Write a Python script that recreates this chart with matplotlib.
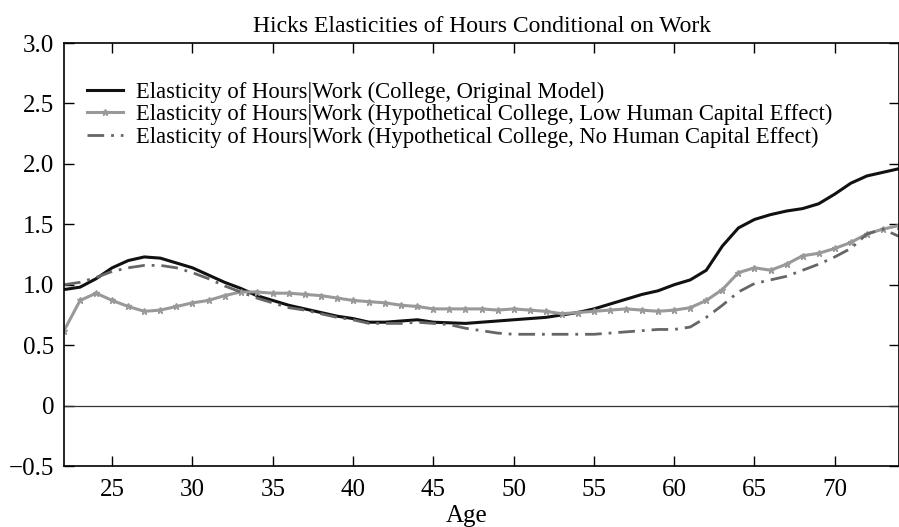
from matplotlib import pyplot as plt
import numpy as np

# ages 22..74, one value per year
age = np.arange(22, 75)

original = [0.96, 0.98, 1.05, 1.14, 1.20, 1.23, 1.22, 1.18, 1.14, 1.08,
            1.02, 0.97, 0.91, 0.87, 0.83, 0.80, 0.77, 0.74, 0.72, 0.69,
            0.69, 0.70, 0.71, 0.69, 0.685, 0.68, 0.69, 0.70, 0.71, 0.72,
            0.73, 0.75, 0.77, 0.80, 0.84, 0.88, 0.92, 0.95, 1.00, 1.04,
            1.12, 1.32, 1.47, 1.54, 1.58, 1.61, 1.63, 1.67, 1.75, 1.84,
            1.90, 1.93, 1.96]

low_hc = [0.62, 0.87, 0.93, 0.87, 0.82, 0.78, 0.79, 0.82, 0.85, 0.87,
          0.91, 0.94, 0.94, 0.93, 0.93, 0.92, 0.91, 0.89, 0.87, 0.86,
          0.85, 0.83, 0.82, 0.80, 0.80, 0.80, 0.80, 0.79, 0.80, 0.79,
          0.78, 0.76, 0.77, 0.78, 0.79, 0.80, 0.79, 0.78, 0.79, 0.81,
          0.87, 0.96, 1.10, 1.14, 1.12, 1.17, 1.24, 1.26, 1.30, 1.35,
          1.42, 1.46, 1.49]

no_hc = [1.00, 1.02, 1.06, 1.11, 1.14, 1.16, 1.16, 1.14, 1.10, 1.05,
         0.99, 0.94, 0.89, 0.85, 0.81, 0.79, 0.76, 0.73, 0.71, 0.68,
         0.68, 0.68, 0.69, 0.68, 0.67, 0.64, 0.62, 0.60, 0.59, 0.59,
         0.59, 0.59, 0.59, 0.59, 0.60, 0.61, 0.62, 0.63, 0.63, 0.65,
         0.73, 0.83, 0.94, 1.01, 1.04, 1.07, 1.12, 1.17, 1.23, 1.30,
         1.42, 1.46, 1.40]

labels = ['Elasticity of Hours|Work (College, Original Model)',
          'Elasticity of Hours|Work (Hypothetical College, Low Human Capital Effect)',
          'Elasticity of Hours|Work (Hypothetical College, No Human Capital Effect)']

yticks = [-0.5, 0, 0.5, 1.0, 1.5, 2.0, 2.5, 3.0]
ytick_labels = ['\u22120.5', '0', '0.5', '1.0', '1.5', '2.0', '2.5', '3.0']
xticks = [25, 30, 35, 40, 45, 50, 55, 60, 65, 70]

plt.rcParams['font.family'] = ['Liberation Serif', 'DejaVu Serif']

fig = plt.figure(figsize=(8.99, 5.27), dpi=100)
ax = fig.add_axes([0.0712, 0.1157, 0.9288, 0.8027])

ax.axhline(0, color='#333333', lw=0.9)
ax.plot(age, original, color='#111111', lw=2.2, label=labels[0])
ax.plot(age, low_hc, color='#999999', lw=2.2, marker='*', ms=4.5,
        mec='#999999', label=labels[1])
ax.plot(age, no_hc, color='#666666', lw=2.0, ls=(0, (6, 2.5, 1, 2.5)),
        label=labels[2])

ax.set_xlim(22, 74)
ax.set_ylim(-0.5, 3.0)
ax.set_xticks(xticks)
ax.set_yticks(yticks)
ax.set_yticklabels(ytick_labels)
ax.tick_params(direction='in', length=7, width=1, labelsize=18,
               top=True, right=True)
ax.tick_params(axis='x', pad=9)
ax.tick_params(axis='y', pad=7)
for s in ax.spines.values():
    s.set_linewidth(1.2)

ax.set_title('Hicks Elasticities of Hours Conditional on Work', fontsize=17, pad=8)
ax.set_xlabel('Age', fontsize=18, labelpad=0)
ax.xaxis.set_label_coords(0.482, -0.093)

ax.legend(loc='upper left', bbox_to_anchor=(0.0, 0.962), frameon=False,
          fontsize=16.3, handlelength=1.6, labelspacing=0.05, borderaxespad=0.6,
          handletextpad=0.6)

plt.savefig('out.png', dpi=100)
